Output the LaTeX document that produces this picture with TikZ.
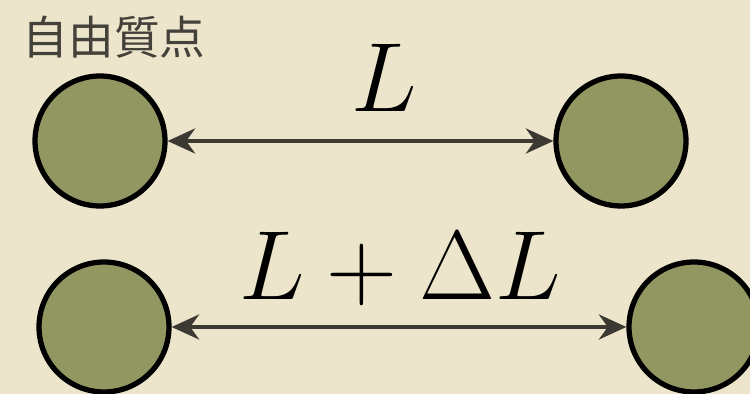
\documentclass[tikz,border=0pt]{standalone}
\usepackage{fontspec}
\newfontfamily\cjk{Noto Sans CJK JP}
\usetikzlibrary{arrows.meta,positioning}
\definecolor{paper}{RGB}{236,229,203}
\definecolor{olive}{RGB}{146,150,96}
\definecolor{inkgray}{RGB}{60,56,50}
\definecolor{labelgray}{RGB}{68,64,58}
\newcommand{\bigmath}[1]{\scalebox{2.25}{\Huge$#1$}}
\tikzset{
  particle/.style={circle,draw=black,line width=3pt,fill=olive,minimum size=2.6cm,inner sep=0pt},
  span/.style={{Stealth[length=5.5mm,width=5mm]}-{Stealth[length=5.5mm,width=5mm]},draw=inkgray,line width=2.3pt},
  biglab/.style={anchor=base,inner sep=0pt},
}

\begin{document}
\begin{tikzpicture}[x=0.02cm,y=-0.02cm]
  \fill[paper] (0,0) rectangle (750,394);
  \useasboundingbox (0,0) rectangle (750,394);
  \node[font=\cjk\fontsize{26}{26}\selectfont,text=labelgray] (title) at (114,37) {自由質点};

  % top pair
  \node[particle] (p1) at (100,141) {};
  \node[particle] (p2) at (621,141) {};
  \draw[span] (p1) -- (p2);
  \node[biglab] (len) at (384,112) {\bigmath{L}};

  % bottom pair
  \node[particle] (q1) at (104,327) {};
  \node[particle] (q2) at (694,327) {};
  \draw[span] (q1) -- (q2);
  \node[biglab] (lenb) at (400,300) {\bigmath{L+\Delta L}};
\end{tikzpicture}
\end{document}
